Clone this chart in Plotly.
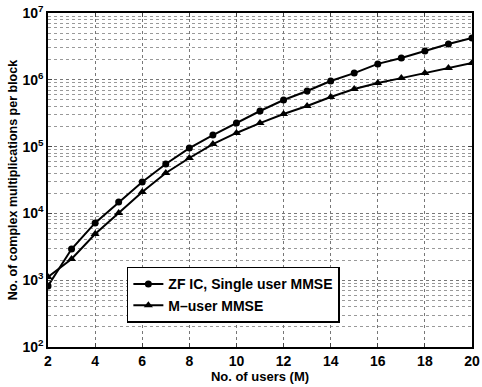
import plotly.graph_objects as go

users = list(range(2, 21))
zf_ic = [820, 2930, 7200, 14800, 29500, 55000, 95000, 149000, 225000, 341000,
         499000, 680000, 960000, 1.26e6, 1.73e6, 2.12e6, 2.70e6, 3.43e6, 4.23e6]
m_user = [1120, 2080, 4900, 10100, 20900, 40300, 67500, 109000, 160000, 225000,
          307000, 405000, 553000, 728000, 896000, 1.06e6, 1.26e6, 1.50e6, 1.78e6]
ytick_vals = [1e2, 1e3, 1e4, 1e5, 1e6, 1e7]
ytick_text = ["10<sup>2</sup>", "10<sup>3</sup>", "10<sup>4</sup>",
              "10<sup>5</sup>", "10<sup>6</sup>", "10<sup>7</sup>"]
xtick_vals = [2, 4, 6, 8, 10, 12, 14, 16, 18, 20]

fig = go.Figure()
fig.add_trace(go.Scatter(x=users, y=zf_ic, mode="lines+markers",
                         name="ZF IC, Single user MMSE",
                         line=dict(color="black", width=2),
                         marker=dict(symbol="circle", size=7, color="black")))
fig.add_trace(go.Scatter(x=users, y=m_user, mode="lines+markers",
                         name="M\u2013user MMSE",
                         line=dict(color="black", width=2),
                         marker=dict(symbol="triangle-up", size=8, color="black")))

fam = "Liberation Sans, Arial, sans-serif"
fig.update_layout(
    width=482, height=387,
    margin=dict(l=48, r=10, t=13, b=40, autoexpand=False),
    paper_bgcolor="white", plot_bgcolor="white",
    font=dict(family=fam, size=13, color="black"),
    showlegend=True,
    legend=dict(x=0.186, y=0.24, xanchor="left", yanchor="top",
                bordercolor="black", borderwidth=1.5, bgcolor="white",
                font=dict(family=fam, size=14, color="black", weight="bold"),
                tracegroupgap=0, itemwidth=30),
)
fig.update_xaxes(range=[2, 20], tickvals=xtick_vals, ticks="inside", ticklen=4,
                 showline=True, linecolor="black", linewidth=1.5, mirror="ticks",
                 showgrid=True, gridcolor="#777", griddash="dot", gridwidth=1,
                 zeroline=False, automargin=False,
                 tickfont=dict(family=fam, size=14, weight="bold"),
                 title=dict(text="<b>No. of users (M)</b>",
                            font=dict(family=fam, size=13), standoff=0))
fig.update_yaxes(type="log", range=[2, 7], tickvals=ytick_vals, ticktext=ytick_text,
                 ticks="inside", ticklen=4, automargin=False,
                 showline=True, linecolor="black", linewidth=1.5, mirror="ticks",
                 showgrid=True, gridcolor="#777", griddash="dot", gridwidth=1,
                 minor=dict(dtick="D1", showgrid=True, gridcolor="#999",
                            griddash="dot", ticks=""),
                 tickfont=dict(family=fam, size=14, weight="bold"),
                 title=dict(text="<b>No. of complex multiplications per block</b>",
                            font=dict(family=fam, size=12.5), standoff=2))
fig.write_html("out.html", config={"displayModeBar": False},
               post_script="document.body.style.margin='0';document.body.style.padding='0';")
